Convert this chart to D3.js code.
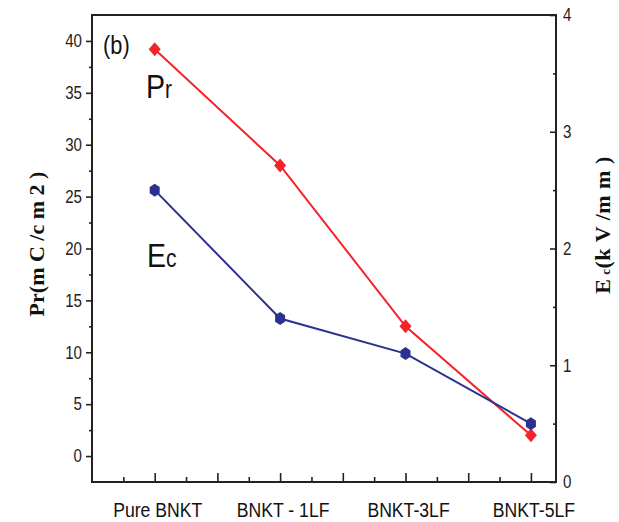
<!DOCTYPE html>
<html>
<head>
<meta charset="utf-8">
<script src="https://cdn.jsdelivr.net/npm/d3@7"></script>
<style>
  body { margin: 0; background: #fff; }
  svg text { font-family: "Liberation Sans", Arial, sans-serif; }
  .ttl { font-family: "Liberation Serif", "Times New Roman", serif !important; font-weight: bold; }
</style>
</head>
<body>
<div id="chart"></div>
<script>
// samples and values
var samples = ["Pure BNKT", "BNKT - 1LF", "BNKT-3LF", "BNKT-5LF"];
var prValues = [39.2, 28.0, 12.5, 2.0];   // Pr (mC/cm2), left axis
var ecValues = [2.5, 1.4, 1.1, 0.5];      // Ec (kV/mm), right axis
var prTicks = [0, 5, 10, 15, 20, 25, 30, 35, 40];
var ecTicks = [0, 1, 2, 3, 4];

var W = 619, H = 522;
var mLeft = 92, mRight = 556, mTop = 15, mBottom = 482;
var narrow = 0.84; // squeeze for the condensed sans in the original

var svg = d3.select("#chart").append("svg").attr("width", W).attr("height", H);
svg.append("rect").attr("width", W).attr("height", H).style("fill", "#fff");

var x = d3.scaleLinear().domain([0.5, 4.2]).range([mLeft, mRight]);
var yL = d3.scaleLinear().domain([-2.5, 42.5]).range([mBottom, mTop]);
var yR = d3.scaleLinear().domain([0, 4]).range([mBottom, mTop]);

var axisColor = "#222";

// minor ticks
var minorL = d3.range(2.5, 42.5, 5);
var minorR = [0.5, 1.5, 2.5, 3.5];
var majorX = d3.range(1, 4.01, 0.5);
var minorX = d3.range(0.75, 4.01, 0.5);

svg.append("g").attr("transform", "translate(" + mLeft + ",0)")
  .call(d3.axisLeft(yL).tickValues(minorL).tickSize(3).tickFormat("").tickSizeOuter(0));
svg.append("g").attr("transform", "translate(" + mRight + ",0)")
  .call(d3.axisRight(yR).tickValues(minorR).tickSize(-3).tickFormat("").tickSizeOuter(0));
svg.append("g").attr("transform", "translate(0," + mBottom + ")")
  .call(d3.axisBottom(x).tickValues(minorX).tickSize(-5).tickFormat("").tickSizeOuter(0));
svg.append("g").attr("transform", "translate(0," + mBottom + ")")
  .call(d3.axisBottom(x).tickValues(majorX).tickSize(-9).tickFormat("").tickSizeOuter(0));

var gL = svg.append("g").attr("transform", "translate(" + mLeft + ",0)")
  .call(d3.axisLeft(yL).tickValues(prTicks).tickSize(6).tickPadding(4).tickSizeOuter(0));
var gR = svg.append("g").attr("transform", "translate(" + mRight + ",0)")
  .call(d3.axisRight(yR).tickValues(ecTicks).tickFormat(d3.format("d"))
    .tickSize(-6).tickPadding(7).tickSizeOuter(0));

svg.selectAll(".tick line").style("stroke", axisColor).style("stroke-width", 1.6);
svg.selectAll(".domain").style("stroke", "none");
svg.selectAll(".tick text").style("font-size", "18px").style("fill", "#222")
  .style("font-family", "\"Liberation Sans\", Arial, sans-serif")
  .attr("x", function() { return +d3.select(this).attr("x") / narrow; })
  .attr("transform", "scale(" + narrow + ",1)");

// frame
svg.append("rect").attr("x", mLeft).attr("y", mTop)
  .attr("width", mRight - mLeft).attr("height", mBottom - mTop)
  .style("fill", "none").style("stroke", axisColor).style("stroke-width", 2);

// category labels
svg.selectAll(".cat").data(samples).enter().append("text")
  .attr("class", "cat")
  .attr("transform", function(d, i) { return "translate(" + (x(i + 1) + 3) + ",517) scale(" + narrow + ",1)"; })
  .attr("text-anchor", "middle")
  .style("font-size", "21px").style("fill", "#111")
  .text(function(d) { return d; });

// lines
var prLine = d3.line().x(function(d, i) { return x(i + 1); }).y(function(d) { return yL(d); });
var ecLine = d3.line().x(function(d, i) { return x(i + 1); }).y(function(d) { return yR(d); });

var red = "#f5232a", blue = "#2b3192";

svg.append("path").datum(prValues).attr("d", prLine)
  .style("fill", "none").style("stroke", red).style("stroke-width", 2);
svg.append("path").datum(ecValues).attr("d", ecLine)
  .style("fill", "none").style("stroke", blue).style("stroke-width", 2);

// markers
svg.selectAll(".dia").data(prValues).enter().append("path")
  .attr("class", "dia")
  .attr("d", "M0,-7L6,0L0,7L-6,0Z")
  .attr("transform", function(d, i) { return "translate(" + x(i + 1) + "," + yL(d) + ")"; })
  .style("fill", red);
svg.selectAll(".hex").data(ecValues).enter().append("path")
  .attr("class", "hex")
  .attr("d", "M0,-6.5L5,-3.2L5,3.2L0,6.5L-5,3.2L-5,-3.2Z")
  .attr("transform", function(d, i) { return "translate(" + x(i + 1) + "," + yR(d) + ")"; })
  .style("fill", blue);

// annotations
svg.append("text").attr("transform", "translate(103,54) scale(" + narrow + ",1)")
  .style("font-size", "26px").style("fill", "#111").text("(b)");
var pr = svg.append("text").attr("transform", "translate(146,98) scale(" + narrow + ",1)")
  .style("font-size", "34px").style("fill", "#111");
pr.append("tspan").text("P");
pr.append("tspan").style("font-size", "25px").text("r");
var ec = svg.append("text").attr("transform", "translate(147,267) scale(" + narrow + ",1)")
  .style("font-size", "34px").style("fill", "#111");
ec.append("tspan").text("E");
ec.append("tspan").style("font-size", "25px").text("c");

// axis titles
svg.append("text").attr("class", "ttl")
  .attr("transform", "translate(44,244) rotate(-90)")
  .attr("text-anchor", "middle")
  .style("font-size", "22px").style("fill", "#111")
  .text("Pr(m C /c m 2 )");

var et = svg.append("text").attr("class", "ttl")
  .attr("transform", "translate(610,225) rotate(-90)")
  .attr("text-anchor", "middle")
  .style("font-size", "22px").style("fill", "#111")
  .style("letter-spacing", "0.5px");
et.append("tspan").text("E");
et.append("tspan").style("font-size", "13px").text(" c");
et.append("tspan").text("(k V /m m )");
</script>
</body>
</html>
